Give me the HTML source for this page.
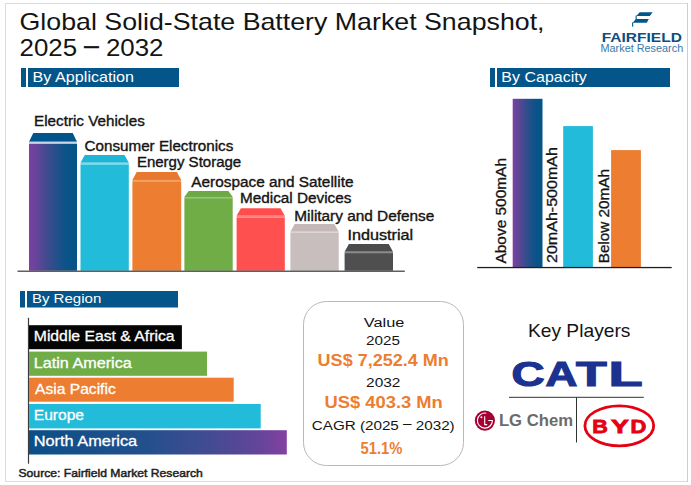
<!DOCTYPE html>
<html><head><meta charset="utf-8"><title>Global Solid-State Battery Market Snapshot, 2025 – 2032</title>
<style>
html,body{margin:0;padding:0;background:#fff;}
body{width:691px;height:485px;overflow:hidden;}
svg{display:block;font-family:"Liberation Sans", sans-serif;}
</style></head><body>
<svg width="691" height="485" viewBox="0 0 691 485">
<defs>
<linearGradient id="gEV" x1="0" y1="0" x2="1" y2="0">
<stop offset="0" stop-color="#7c3fa2"/><stop offset="0.2" stop-color="#5e4697"/><stop offset="0.4" stop-color="#3c4b8e"/><stop offset="0.6" stop-color="#20508a"/><stop offset="0.78" stop-color="#0a5388"/><stop offset="1" stop-color="#055489"/>
</linearGradient>
<linearGradient id="gCapA" x1="0" y1="0" x2="1" y2="0">
<stop offset="0" stop-color="#7c3fa2"/><stop offset="0.2" stop-color="#5e4697"/><stop offset="0.4" stop-color="#3c4b8e"/><stop offset="0.6" stop-color="#20508a"/><stop offset="0.78" stop-color="#0a5388"/><stop offset="1" stop-color="#055489"/>
</linearGradient>
<linearGradient id="gNA" x1="0" y1="0" x2="1" y2="0">
<stop offset="0" stop-color="#0c4f88"/><stop offset="0.45" stop-color="#22508c"/><stop offset="0.75" stop-color="#4a4a93"/><stop offset="0.9" stop-color="#66449a"/><stop offset="1" stop-color="#8441a1"/>
</linearGradient>
</defs>
<rect x="5.5" y="3.5" width="682" height="478" fill="#fff" stroke="#dcdcdc" stroke-width="1"/>
<rect x="687" y="3" width="1" height="479" fill="#cecece"/>
<!-- logo icon -->
<g fill="#03558a">
<polygon points="639.7,12.3 652.6,12.3 649.8,15.9 636.4,15.9"/>
<rect x="635.6" y="15.5" width="1.1" height="4"/>
<polygon points="635.9,19.1 648.8,19.1 646.8,22.7 632.6,22.7"/>
<rect x="632.1" y="22.4" width="1.1" height="4.3"/>
</g>
<!-- headers -->
<g fill="#03558a">
<rect x="21" y="68" width="5" height="19"/><rect x="28" y="68" width="151" height="19"/>
<rect x="490" y="68" width="5" height="19"/><rect x="497" y="68" width="173" height="19"/>
<rect x="20" y="291" width="5" height="16.5"/><rect x="27" y="291" width="151" height="16.5"/>
</g>
<!-- application bars -->
<polygon points="33.3,133.1 72.7,133.1 77.0,141.8 29.0,141.8" fill="#03548a"/>
<rect x="29.0" y="141.8" width="48.0" height="2.0" fill="#c6d6e6"/>
<rect x="29.0" y="143.8" width="48.0" height="126.9" fill="url(#gEV)"/>
<polygon points="84.8,155.0 124.50000000000001,155.0 128.8,162.8 80.5,162.8" fill="#1fb5d6"/>
<rect x="80.5" y="162.8" width="48.3" height="1.7" fill="#8bd8ee"/>
<rect x="80.5" y="164.5" width="48.3" height="106.2" fill="#22bbda"/>
<polygon points="136.70000000000002,172.1 176.89999999999998,172.1 181.2,179.9 132.4,179.9" fill="#e8782d"/>
<rect x="132.4" y="179.9" width="48.8" height="1.4" fill="#f2a362"/>
<rect x="132.4" y="181.3" width="48.8" height="89.4" fill="#ec7d31"/>
<polygon points="188.70000000000002,191.1 228.39999999999998,191.1 232.7,196.9 184.4,196.9" fill="#6da944"/>
<rect x="184.4" y="196.9" width="48.3" height="1.3" fill="#97c679"/>
<rect x="184.4" y="198.2" width="48.3" height="72.5" fill="#70ad47"/>
<polygon points="240.9,208.2 280.5,208.2 284.8,215.8 236.6,215.8" fill="#ff4d4d"/>
<rect x="236.6" y="215.8" width="48.2" height="2.0" fill="#ff8585"/>
<rect x="236.6" y="217.8" width="48.2" height="52.9" fill="#ff5050"/>
<polygon points="294.7,224.1 334.4,224.1 338.7,231.8 290.4,231.8" fill="#c4b8b8"/>
<rect x="290.4" y="231.8" width="48.3" height="1.1" fill="#ddd4d4"/>
<rect x="290.4" y="232.9" width="48.3" height="37.8" fill="#c8bebe"/>
<polygon points="348.90000000000003,244.1 388.7,244.1 393.0,251.8 344.6,251.8" fill="#4b4b4b"/>
<rect x="344.6" y="251.8" width="48.4" height="1.3" fill="#8c8c8c"/>
<rect x="344.6" y="253.1" width="48.4" height="17.6" fill="#4f4f4f"/>
<rect x="17.5" y="270.6" width="387.3" height="1.2" fill="#3a3a3a"/>
<!-- capacity bars -->
<rect x="512.7" y="98.8" width="29.8" height="168.4" fill="url(#gCapA)"/>
<rect x="563.2" y="126.1" width="29.7" height="141.1" fill="#22bbda"/>
<rect x="611.1" y="150.1" width="29.8" height="117.1" fill="#ec7d31"/>
<rect x="477.2" y="266.9" width="194.5" height="1.3" fill="#1e1e1e"/>
<!-- region -->
<rect x="27.9" y="317.8" width="1.2" height="145.9" fill="#3c3c3c"/>
<rect x="29.0" y="325.2" width="152.9" height="24.0" fill="#050505"/>
<rect x="29.0" y="351.6" width="178.0" height="24.2" fill="#70ad47"/>
<rect x="29.0" y="377.7" width="204.7" height="24.0" fill="#ec7d31"/>
<rect x="29.0" y="404.0" width="231.7" height="24.4" fill="#22bbda"/>
<rect x="29.0" y="430.2" width="257.8" height="24.3" fill="url(#gNA)"/>
<!-- value box -->
<rect x="303.5" y="301.5" width="160" height="164" rx="23" ry="23" fill="#fff" stroke="#b8b8b8" stroke-width="1"/>
<!-- key players dividers -->
<rect x="509" y="396.8" width="134.8" height="1" fill="#333"/>
<rect x="576" y="397" width="1" height="45.5" fill="#333"/>
<!-- LG logo -->
<circle cx="484.9" cy="420.6" r="10.1" fill="#a50034"/>
<g fill="none" stroke="#fff" stroke-width="1.1">
<path d="M 486.2 413.2 A 7.5 7.5 0 1 0 492.4 420.5 L 488.3 420.5"/>
<path d="M 484.7 416.2 L 484.7 424.6 L 487.2 424.6"/>
</g>
<circle cx="481.4" cy="417.3" r="0.95" fill="#fff"/>
<!-- BYD ellipse -->
<ellipse cx="619.3" cy="425.8" rx="34.4" ry="20.0" fill="none" stroke="#e60012" stroke-width="2.8"/>

<text x="19.57" y="30.30" font-size="23.4" font-weight="400" fill="#141414" textLength="524.95" lengthAdjust="spacingAndGlyphs">Global Solid-State Battery Market Snapshot,</text>
<text x="19.62" y="55.60" font-size="23.4" font-weight="400" fill="#141414" textLength="143.81" lengthAdjust="spacingAndGlyphs">2025 <tspan dy="-2.5" stroke="#141414" stroke-width="0.6">–</tspan><tspan dy="2.5"> 2032</tspan></text>
<text x="601.73" y="42.40" font-size="12.0" font-weight="700" fill="#0a4f82" textLength="80.12" lengthAdjust="spacingAndGlyphs">FAIRFIELD</text>
<text x="600.50" y="51.70" font-size="10.2" font-weight="400" fill="#3a78a8" textLength="82.72" lengthAdjust="spacingAndGlyphs">Market Research</text>
<text x="32.58" y="81.90" font-size="14.2" font-weight="400" fill="#ffffff" textLength="101.52" lengthAdjust="spacingAndGlyphs">By Application</text>
<text x="501.39" y="81.90" font-size="14.2" font-weight="400" fill="#ffffff" textLength="85.25" lengthAdjust="spacingAndGlyphs">By Capacity</text>
<text x="31.90" y="302.60" font-size="13.7" font-weight="400" fill="#ffffff" textLength="69.39" lengthAdjust="spacingAndGlyphs">By Region</text>
<text x="34.10" y="125.60" font-size="13.8" font-weight="400" fill="#141414" stroke="#141414" stroke-width="0.35" textLength="110.70" lengthAdjust="spacingAndGlyphs">Electric Vehicles</text>
<text x="84.47" y="150.50" font-size="13.8" font-weight="400" fill="#141414" stroke="#141414" stroke-width="0.35" textLength="148.83" lengthAdjust="spacingAndGlyphs">Consumer Electronics</text>
<text x="136.91" y="167.20" font-size="13.8" font-weight="400" fill="#141414" stroke="#141414" stroke-width="0.35" textLength="104.27" lengthAdjust="spacingAndGlyphs">Energy Storage</text>
<text x="191.30" y="187.20" font-size="13.8" font-weight="400" fill="#141414" stroke="#141414" stroke-width="0.35" textLength="162.14" lengthAdjust="spacingAndGlyphs">Aerospace and Satellite</text>
<text x="240.09" y="202.90" font-size="13.8" font-weight="400" fill="#141414" stroke="#141414" stroke-width="0.35" textLength="111.31" lengthAdjust="spacingAndGlyphs">Medical Devices</text>
<text x="294.29" y="220.60" font-size="13.8" font-weight="400" fill="#141414" stroke="#141414" stroke-width="0.35" textLength="139.99" lengthAdjust="spacingAndGlyphs">Military and Defense</text>
<text x="347.53" y="240.20" font-size="13.8" font-weight="400" fill="#141414" stroke="#141414" stroke-width="0.35" textLength="65.62" lengthAdjust="spacingAndGlyphs">Industrial</text>
<text transform="translate(506.10,263.50) rotate(-90)" x="0" y="0" font-size="14.1" font-weight="400" fill="#141414" stroke="#141414" stroke-width="0.3" textLength="105.46" lengthAdjust="spacingAndGlyphs">Above 500mAh</text>
<text transform="translate(556.70,263.05) rotate(-90)" x="0" y="0" font-size="14.1" font-weight="400" fill="#141414" stroke="#141414" stroke-width="0.3" textLength="116.02" lengthAdjust="spacingAndGlyphs">20mAh-500mAh</text>
<text transform="translate(608.60,263.26) rotate(-90)" x="0" y="0" font-size="14.1" font-weight="400" fill="#141414" stroke="#141414" stroke-width="0.3" textLength="94.31" lengthAdjust="spacingAndGlyphs">Below 20mAh</text>
<text x="33.77" y="341.20" font-size="14.8" font-weight="400" fill="#ffffff" stroke="#ffffff" stroke-width="0.3" textLength="140.83" lengthAdjust="spacingAndGlyphs">Middle East &amp; Africa</text>
<text x="33.73" y="367.80" font-size="14.8" font-weight="400" fill="#ffffff" stroke="#ffffff" stroke-width="0.3" textLength="98.06" lengthAdjust="spacingAndGlyphs">Latin America</text>
<text x="35.10" y="394.00" font-size="14.8" font-weight="400" fill="#ffffff" stroke="#ffffff" stroke-width="0.3" textLength="80.61" lengthAdjust="spacingAndGlyphs">Asia Pacific</text>
<text x="33.78" y="420.40" font-size="14.8" font-weight="400" fill="#ffffff" stroke="#ffffff" stroke-width="0.3" textLength="50.27" lengthAdjust="spacingAndGlyphs">Europe</text>
<text x="33.72" y="446.30" font-size="14.8" font-weight="400" fill="#ffffff" stroke="#ffffff" stroke-width="0.3" textLength="103.48" lengthAdjust="spacingAndGlyphs">North America</text>
<text x="363.80" y="327.40" font-size="13.7" font-weight="400" fill="#141414" textLength="40.60" lengthAdjust="spacingAndGlyphs">Value</text>
<text x="366.07" y="345.40" font-size="13.7" font-weight="400" fill="#141414" textLength="33.84" lengthAdjust="spacingAndGlyphs">2025</text>
<text x="317.61" y="366.00" font-size="16.5" font-weight="700" fill="#ec7d31" textLength="131.16" lengthAdjust="spacingAndGlyphs">US$ 7,252.4 Mn</text>
<text x="366.05" y="387.40" font-size="13.7" font-weight="400" fill="#141414" textLength="34.34" lengthAdjust="spacingAndGlyphs">2032</text>
<text x="324.49" y="408.00" font-size="16.5" font-weight="700" fill="#ec7d31" textLength="118.30" lengthAdjust="spacingAndGlyphs">US$ 403.3 Mn</text>
<text x="311.77" y="429.70" font-size="13.7" font-weight="400" fill="#141414" textLength="142.89" lengthAdjust="spacingAndGlyphs">CAGR (2025 <tspan dy="-1.9">–</tspan><tspan dy="1.9"> 2032)</tspan></text>
<text x="360.55" y="453.60" font-size="16.5" font-weight="700" fill="#ec7d31" textLength="41.91" lengthAdjust="spacingAndGlyphs">51.1%</text>
<text x="527.93" y="337.00" font-size="18.4" font-weight="400" fill="#141414" textLength="102.52" lengthAdjust="spacingAndGlyphs">Key Players</text>
<text x="498.91" y="426.30" font-size="16.8" font-weight="700" fill="#6b6b6b" textLength="74.08" lengthAdjust="spacingAndGlyphs">LG Chem</text>
<text x="18.53" y="477.00" font-size="10.6" font-weight="400" fill="#1e1e1e" stroke="#1e1e1e" stroke-width="0.45" textLength="184.32" lengthAdjust="spacingAndGlyphs">Source: Fairfield Market Research</text>
<text aria-label="CATL" y="386.4" font-size="35.0" font-weight="700" fill="#1c3290" stroke="#1c3290" stroke-width="1.2"><tspan x="511.49" textLength="33.00" lengthAdjust="spacingAndGlyphs">C</tspan><tspan x="545.59" textLength="31.86" lengthAdjust="spacingAndGlyphs">A</tspan><tspan x="575.99" textLength="30.72" lengthAdjust="spacingAndGlyphs">T</tspan><tspan x="608.56" textLength="34.11" lengthAdjust="spacingAndGlyphs">L</tspan></text>
<text aria-label="BYD" y="432.5" font-size="18.7" font-weight="700" fill="#e60012" stroke="#e60012" stroke-width="0.8" stroke-linejoin="miter"><tspan x="592.25" textLength="15.61" lengthAdjust="spacingAndGlyphs">B</tspan><tspan x="610.98" textLength="17.89" lengthAdjust="spacingAndGlyphs">Y</tspan><tspan x="630.63" textLength="15.85" lengthAdjust="spacingAndGlyphs">D</tspan></text>
</svg>
</body></html>
